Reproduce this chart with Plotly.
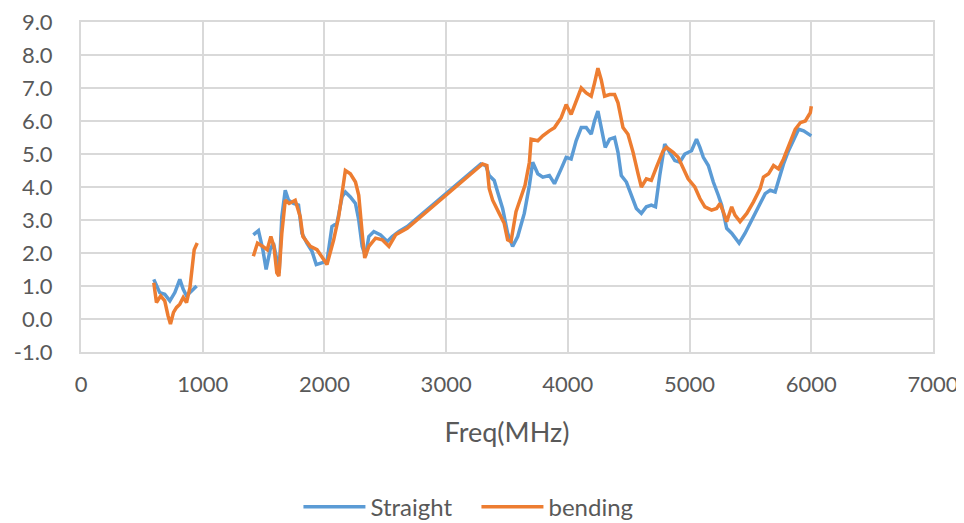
import plotly.graph_objects as go

# Straight (blue)
straight_freq = [598, 647, 688, 730, 771, 812, 840, 867, 908, 950, None,
                 1416, 1458, 1494, 1521, 1554, 1581, 1609, 1628, 1650, 1678, 1705, 1746, 1787,
                 1815, 1856, 1898, 1933, 1980, 2021, 2062, 2103, 2145, 2172, 2213, 2255,
                 2282, 2310, 2337, 2365, 2406, 2461, 2516, 2557, 2612, 2680, 3285, 3326,
                 3354, 3395, 3423, 3464, 3505, 3546, 3588, 3642, 3684, 3711, 3753, 3794,
                 3848, 3890, 3945, 3986, 4027, 4068, 4110, 4151, 4192, 4219, 4247, 4274,
                 4307, 4343, 4384, 4412, 4439, 4481, 4522, 4563, 4604, 4645, 4686, 4720,
                 4755, 4796, 4837, 4879, 4920, 4961, 5016, 5057, 5085, 5113, 5154, 5195,
                 5236, 5264, 5305, 5346, 5407, 5456, 5511, 5566, 5621, 5662, 5703, 5731,
                 5772, 5813, 5855, 5896, 5937, 5978, 6000]
straight_val = [1.2, 0.8, 0.75, 0.55, 0.8, 1.2, 0.9, 0.7, 0.85, 1.0, None,
                2.55, 2.68, 2.1, 1.5, 2.1, 2.3, 1.8, 1.4, 3.1, 3.9, 3.6, 3.5, 3.45,
                2.6, 2.3, 2.05, 1.65, 1.7, 1.75, 2.8, 2.9, 3.7, 3.85, 3.7, 3.5,
                3.0, 2.2, 1.9, 2.5, 2.65, 2.55, 2.35, 2.5, 2.65, 2.8, 4.7, 4.65,
                4.35, 4.2, 3.85, 3.35, 2.6, 2.2, 2.5, 3.2, 4.05, 4.75, 4.4, 4.3,
                4.35, 4.1, 4.55, 4.9, 4.85, 5.4, 5.8, 5.8, 5.6, 6.0, 6.3, 5.85,
                5.2, 5.45, 5.5, 5.05, 4.35, 4.15, 3.75, 3.35, 3.2, 3.4, 3.45, 3.4,
                4.35, 5.3, 5.05, 4.8, 4.75, 5.0, 5.1, 5.45, 5.2, 4.9, 4.65, 4.15,
                3.75, 3.45, 2.75, 2.6, 2.3, 2.6, 3.0, 3.4, 3.8, 3.9, 3.85, 4.2,
                4.7, 5.1, 5.45, 5.75, 5.7, 5.6, 5.55]

# bending (orange)
bending_freq = [598, 620, 655, 688, 715, 735, 760, 785, 812, 840, 867, 895, 930, 955, None,
                1416, 1450, 1494, 1530, 1560, 1585, 1609, 1626, 1650, 1678, 1710, 1760, 1801,
                1823, 1884, 1939, 1994, 2021, 2076, 2117, 2172, 2213, 2255, 2282, 2310,
                2331, 2365, 2420, 2475, 2530, 2585, 2680, 3299, 3335, 3354, 3382, 3436,
                3477, 3505, 3533, 3574, 3615, 3648, 3684, 3698, 3753, 3794, 3848, 3890,
                3945, 3986, 4027, 4068, 4110, 4151, 4192, 4219, 4247, 4274, 4302, 4343,
                4384, 4412, 4453, 4494, 4536, 4577, 4604, 4645, 4686, 4728, 4783, 4810,
                4865, 4906, 4947, 4988, 5043, 5085, 5126, 5181, 5222, 5250, 5277, 5305,
                5346, 5373, 5415, 5470, 5525, 5580, 5607, 5649, 5690, 5731, 5772, 5813,
                5868, 5910, 5951, 5992, 6000]
bending_val = [1.1, 0.5, 0.7, 0.55, 0.1, -0.15, 0.2, 0.35, 0.45, 0.65, 0.5, 0.95, 2.1, 2.3, None,
               1.9, 2.3, 2.2, 2.1, 2.5, 2.2, 1.4, 1.3, 2.6, 3.6, 3.5, 3.6, 3.1,
               2.5, 2.2, 2.1, 1.8, 1.65, 2.4, 3.1, 4.5, 4.4, 4.15, 3.75, 2.6,
               1.85, 2.2, 2.45, 2.4, 2.2, 2.55, 2.75, 4.7, 4.65, 3.95, 3.6, 3.2,
               2.9, 2.4, 2.35, 3.25, 3.7, 4.05, 4.75, 5.45, 5.4, 5.55, 5.7, 5.8,
               6.1, 6.5, 6.2, 6.6, 7.0, 6.85, 6.75, 7.15, 7.6, 7.25, 6.75, 6.8,
               6.8, 6.55, 5.8, 5.6, 5.05, 4.4, 4.0, 4.25, 4.2, 4.6, 5.1, 5.2,
               5.05, 4.9, 4.55, 4.25, 4.0, 3.65, 3.4, 3.3, 3.35, 3.5, 3.25, 2.95,
               3.4, 3.15, 2.95, 3.2, 3.55, 3.95, 4.3, 4.4, 4.65, 4.55, 4.85, 5.25,
               5.75, 5.95, 6.0, 6.25, 6.45]

x_ticks = [0, 1000, 2000, 3000, 4000, 5000, 6000, 7000]
y_ticks = [-1, 0, 1, 2, 3, 4, 5, 6, 7, 8, 9]

FONT = "Lato, Open Sans, sans-serif"
GRID = "#d9d9d9"
TXT = "#595959"

fig = go.Figure()
fig.add_trace(go.Scatter(x=straight_freq, y=straight_val, mode="lines", name="Straight",
                         line=dict(color="#5B9BD5", width=3.5), connectgaps=False))
fig.add_trace(go.Scatter(x=bending_freq, y=bending_val, mode="lines", name="bending",
                         line=dict(color="#ED7D31", width=3.5), connectgaps=False))

# page body adds an 8px offset; figure is sized so the plot sits where the reference has it
fig.update_layout(
    width=956, height=515,
    margin=dict(l=73, r=31, t=14, b=171, autoexpand=False),
    paper_bgcolor="white", plot_bgcolor="white",
    font=dict(family=FONT, size=22, color=TXT),
    showlegend=True,
    legend=dict(orientation="h", xref="container", yref="container",
                x=0.490, y=0.031, xanchor="center", yanchor="middle",
                font=dict(size=24, color=TXT), itemwidth=62, tracegroupgap=0,
                entrywidth=101, entrywidthmode="pixels",
                bgcolor="rgba(0,0,0,0)"),
    xaxis=dict(range=[0, 7000], tickvals=x_ticks, ticktext=[str(v) for v in x_ticks],
               showgrid=True, gridcolor=GRID, gridwidth=2, zeroline=False,
               showline=True, linecolor=GRID, linewidth=2, mirror=True,
               ticks="outside", ticklen=12, tickcolor="rgba(0,0,0,0)",
               automargin=False, ticklabeloverflow="allow",
               title=dict(text="Freq(MHz)", font=dict(size=27, color=TXT), standoff=27),
               tickfont=dict(size=22, color=TXT)),
    yaxis=dict(range=[-1, 9], tickvals=y_ticks, ticktext=[f"{v:.1f}" for v in y_ticks],
               showgrid=True, gridcolor=GRID, gridwidth=2, zeroline=False,
               showline=True, linecolor=GRID, linewidth=2, mirror=True,
               ticks="outside", ticklen=22, tickcolor="rgba(0,0,0,0)",
               automargin=False, ticklabeloverflow="allow",
               tickfont=dict(size=22, color=TXT)),
)

fig.write_html("out.html")
